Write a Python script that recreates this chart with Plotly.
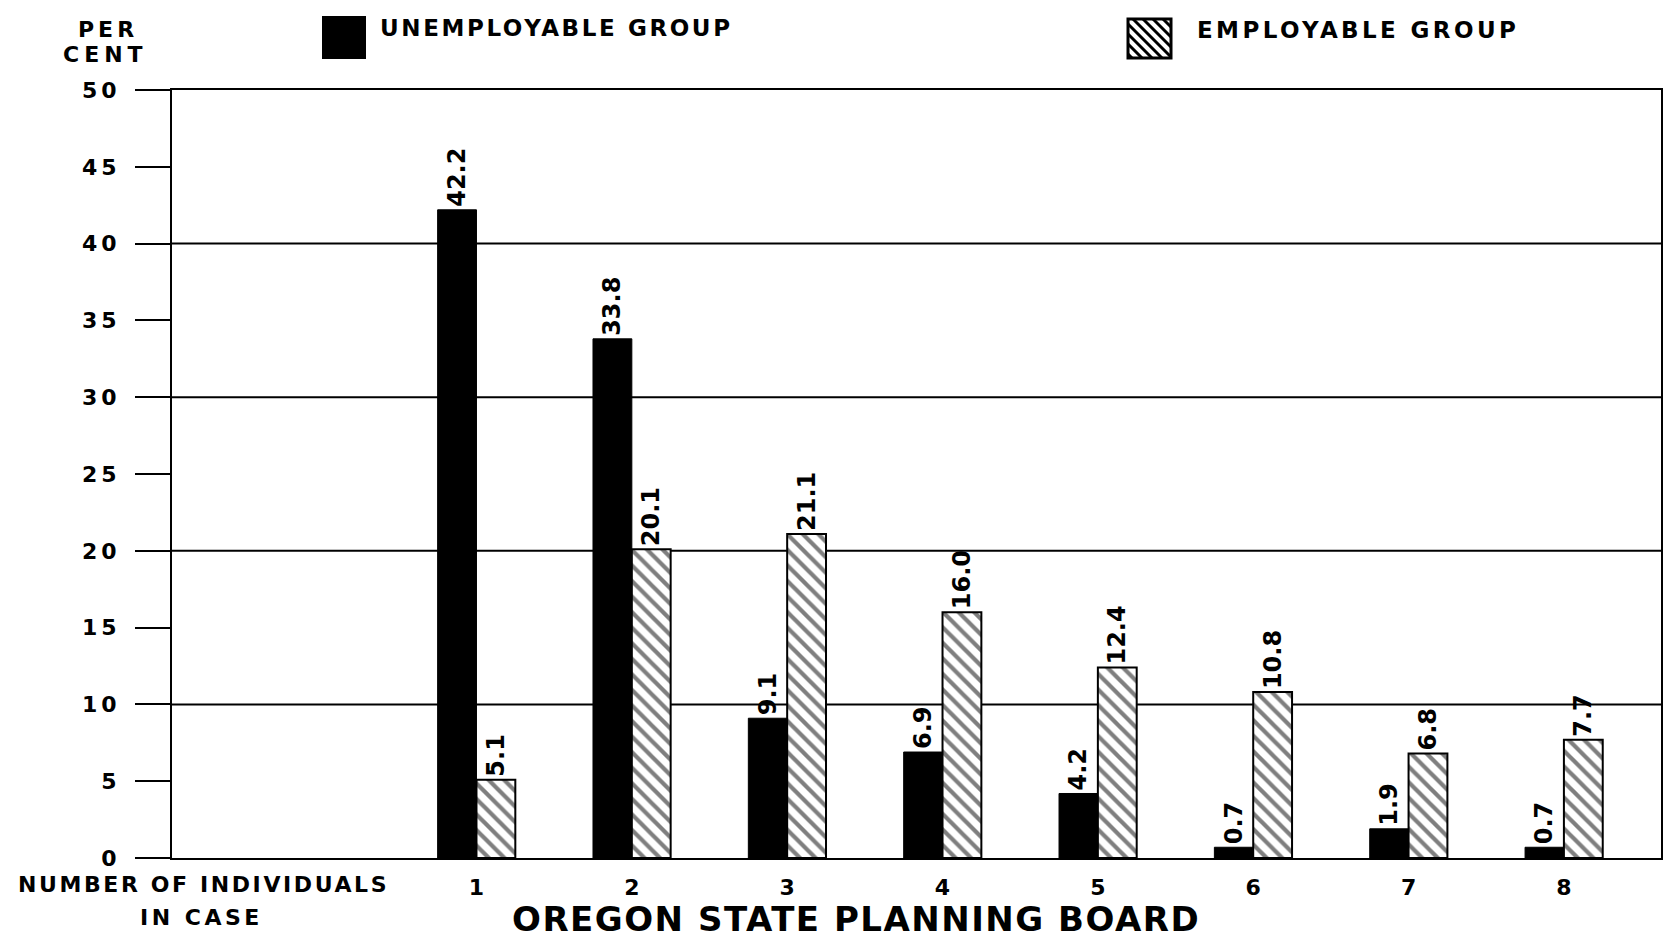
import plotly.graph_objects as go

# ---- data ----
categories = [1, 2, 3, 4, 5, 6, 7, 8]
cat_labels = ["1", "2", "3", "4", "5", "6", "7", "8"]
unemployable = [42.2, 33.8, 9.1, 6.9, 4.2, 0.7, 1.9, 0.7]
employable = [5.1, 20.1, 21.1, 16.0, 12.4, 10.8, 6.8, 7.7]
y_ticks = [0, 5, 10, 15, 20, 25, 30, 35, 40, 45, 50]
y_tick_labels = ["0", "5", "10", "15", "20", "25", "30", "35", "40", "45", "50"]
grid_levels = [10, 20, 30, 40]

W, H = 1673, 937
ML, MR, MT, MB = 164, 20, 82, 87
PW, PH = W - ML - MR, H - MT - MB
FONT = "DejaVu Sans"


def px(x):
    return (x - ML) / PW


def py(y):
    return (H - MB - y) / PH


def spaced(s, sp):
    return f'<span style="letter-spacing:{sp}px">{s}</span>'


fig = go.Figure()
fig.add_trace(go.Bar(
    x=categories, y=unemployable, name="UNEMPLOYABLE GROUP",
    marker=dict(color="black", line=dict(color="black", width=1)),
    text=[f"{v:.1f}" for v in unemployable], textposition="outside",
    textangle=-90, textfont=dict(family=FONT, size=24, color="black", weight="bold"),
    constraintext="none", cliponaxis=False,
))
fig.add_trace(go.Bar(
    x=categories, y=employable, name="EMPLOYABLE GROUP",
    marker=dict(color="white", line=dict(color="black", width=2),
                pattern=dict(shape="\\", fgcolor="black", bgcolor="white",
                             size=11, solidity=0.38)),
    text=[f"{v:.1f}" for v in employable], textposition="outside",
    textangle=-90, textfont=dict(family=FONT, size=24, color="black", weight="bold"),
    constraintext="none", cliponaxis=False,
))

shapes = []
for g in grid_levels:
    shapes.append(dict(type="line", xref="paper", yref="y", x0=0, x1=1, y0=g, y1=g,
                       line=dict(color="black", width=2), layer="below"))

# legend keys
shapes.append(dict(type="rect", xref="paper", yref="paper",
                   x0=px(315), x1=px(357), y0=py(50), y1=py(9),
                   fillcolor="black", line=dict(color="black", width=2)))
bx0, bx1, by0, by1 = 1120, 1163, 11, 50
shapes.append(dict(type="rect", xref="paper", yref="paper",
                   x0=px(bx0), x1=px(bx1), y0=py(by1), y1=py(by0),
                   fillcolor="white", line=dict(color="black", width=3)))
# hatch lines "\" clipped to the key box (screen coords, y down)
step = 10
c = (bx0 - by1) + 4
while c < bx1 - by0:
    pts = []
    for yy in (by0, by1):
        xx = c + yy
        if bx0 <= xx <= bx1:
            pts.append((xx, yy))
    for xx in (bx0, bx1):
        yy = xx - c
        if by0 <= yy <= by1:
            pts.append((xx, yy))
    pts = sorted(set(pts))
    if len(pts) >= 2:
        (xa, ya), (xb, yb) = pts[0], pts[-1]
        shapes.append(dict(type="line", xref="paper", yref="paper",
                           x0=px(xa), y0=py(ya), x1=px(xb), y1=py(yb),
                           line=dict(color="black", width=3)))
    c += step

bold = dict(family=FONT, color="black", weight="bold")
annotations = [
    dict(text=spaced("PER", 4), x=px(100), y=py(21), font=dict(size=22, **bold)),
    dict(text=spaced("CENT", 5), x=px(97), y=py(47), font=dict(size=22, **bold)),
    dict(text=spaced("UNEMPLOYABLE GROUP", 2.6), x=px(370), y=py(20), xanchor="left",
         font=dict(size=23, **bold)),
    dict(text=spaced("EMPLOYABLE GROUP", 3.4), x=px(1187), y=py(22), xanchor="left",
         font=dict(size=23, **bold)),
    dict(text=spaced("NUMBER OF INDIVIDUALS", 2.6), x=px(195), y=py(876),
         font=dict(size=22, **bold)),
    dict(text=spaced("IN CASE", 3.5), x=px(193), y=py(909), font=dict(size=22, **bold)),
    dict(text=spaced("OREGON STATE PLANNING BOARD", 1.5), x=px(848), y=py(911),
         font=dict(size=34, **bold)),
]
for a in annotations:
    a.update(xref="paper", yref="paper", showarrow=False)
    a.setdefault("xanchor", "center")
    a.setdefault("yanchor", "middle")

fig.update_layout(
    width=W, height=H,
    margin=dict(l=ML, r=MR, t=MT, b=MB),
    paper_bgcolor="white", plot_bgcolor="white",
    barmode="group", bargap=0.5, bargroupgap=0,
    showlegend=False,
    shapes=shapes, annotations=annotations,
    font=dict(family=FONT, color="black"),
)
fig.update_xaxes(
    range=[-0.96, 8.625], tickvals=categories, ticktext=cat_labels,
    showgrid=False, zeroline=False, showline=True, mirror=True,
    linecolor="black", linewidth=2, ticks="",
    tickfont=dict(family=FONT, size=22, color="black", weight="bold"),
    ticklabelstandoff=9,
)
fig.update_yaxes(
    range=[0, 50], tickvals=y_ticks, ticktext=[spaced(t, 4) for t in y_tick_labels],
    showgrid=False, zeroline=False, showline=True, mirror=True,
    linecolor="black", linewidth=2,
    ticks="outside", ticklen=35, tickwidth=2, tickcolor="black",
    tickfont=dict(family=FONT, size=22, color="black", weight="bold"),
    ticklabelstandoff=10,
)

fig.write_html("out.html")
